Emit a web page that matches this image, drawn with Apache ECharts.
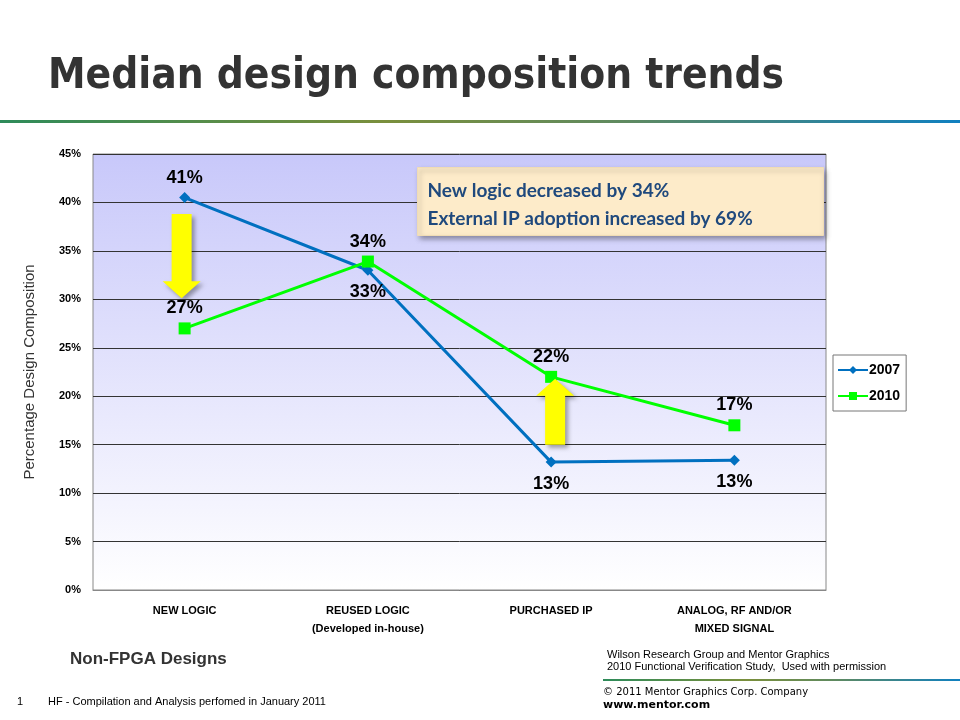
<!DOCTYPE html>
<html>
<head>
<meta charset="utf-8">
<script src="https://cdn.jsdelivr.net/npm/echarts@6/dist/echarts.min.js"></script>
<style>
  html, body { margin: 0; padding: 0; background: #fff; }
  #chart { width: 960px; height: 720px; }
</style>
</head>
<body>
<div id="chart"></div>
<script>
// 数据
const categories = ['NEW LOGIC', 'REUSED LOGIC\n(Developed in-house)', 'PURCHASED IP', 'ANALOG, RF AND/OR\nMIXED SIGNAL'];
const values2007 = [40.5, 33.0, 13.2, 13.4];
const values2010 = [27.0, 33.9, 22.0, 17.0];
const labelPos2007 = ['top', 'bottom', 'bottom', 'bottom'];
const labelPos2010 = ['top', 'top', 'top', 'top'];
const yMin = 0;
const yMax = 45;
const yStep = 5;
const noteLines = ['New logic decreased by 34%', 'External IP adoption increased by 69%'];

const chart = echarts.init(document.getElementById('chart'));

const labelFont = {
    color: '#000',
    fontWeight: 'bold',
    fontSize: 18,
    fontFamily: 'Liberation Sans, Arial, sans-serif',
    formatter: (p) => Math.round(p.value) + '%'
};

function buildData(values, positions) {
    return values.map((v, i) => ({
        value: v,
        label: { position: positions[i], distance: positions[i] === 'top' ? 5 : 7 }
    }));
}

const ruleGradient = new echarts.graphic.LinearGradient(0, 0, 1, 0, [
    { offset: 0, color: '#2e8b5a' },
    { offset: 0.4, color: '#7a8f3c' },
    { offset: 0.65, color: '#5f8a60' },
    { offset: 1, color: '#1080c0' }
]);

const option = {
    animation: false,
    backgroundColor: '#fff',
    grid: {
        left: 93,
        right: 134,
        top: 154,
        bottom: 130,
        containLabel: false,
        outerBoundsMode: 'none',
        show: true,
        borderColor: '#888',
        borderWidth: 1,
        backgroundColor: new echarts.graphic.LinearGradient(0, 0, 0, 1, [
            { offset: 0, color: '#c8c8fa' },
            { offset: 1, color: '#ffffff' }
        ])
    },
    legend: {
        orient: 'vertical',
        left: 833,
        top: 355,
        padding: [8, 6, 8, 4],
        itemGap: 12,
        itemWidth: 30,
        itemHeight: 10,
        backgroundColor: '#fff',
        borderColor: '#777',
        borderWidth: 1,
        textStyle: {
            color: '#000',
            fontWeight: 'bold',
            fontSize: 14,
            fontFamily: 'Liberation Sans, Arial, sans-serif',
            padding: [0, 0, 0, -4]
        },
        data: ['2007', '2010']
    },
    xAxis: {
        type: 'category',
        data: categories,
        boundaryGap: true,
        axisLine: { show: true, lineStyle: { color: '#888', width: 1 } },
        axisTick: { show: false },
        axisLabel: {
            color: '#000',
            fontWeight: 'bold',
            fontSize: 11,
            lineHeight: 18,
            margin: 12,
            fontFamily: 'Liberation Sans Narrow, Liberation Sans, Arial, sans-serif'
        }
    },
    yAxis: {
        type: 'value',
        min: yMin,
        max: yMax,
        interval: yStep,
        name: 'Percentage Design Composition',
        nameLocation: 'middle',
        nameGap: 56,
        nameRotate: 90,
        nameTextStyle: {
            color: '#333',
            fontSize: 15,
            fontFamily: 'Liberation Sans, Arial, sans-serif'
        },
        axisLine: { show: false },
        axisTick: { show: false },
        axisLabel: {
            color: '#000',
            fontWeight: 'bold',
            fontSize: 11,
            margin: 12,
            fontFamily: 'Liberation Sans, Arial, sans-serif',
            formatter: '{value}%'
        },
        splitLine: { show: true, lineStyle: { color: '#333', width: 1 } }
    },
    series: [
        {
            name: '2007',
            type: 'line',
            data: buildData(values2007, labelPos2007),
            symbol: 'diamond',
            symbolSize: 11,
            lineStyle: { color: '#0070c0', width: 3 },
            itemStyle: { color: '#0070c0' },
            label: Object.assign({ show: true }, labelFont),
            z: 3
        },
        {
            name: '2010',
            type: 'line',
            data: buildData(values2010, labelPos2010),
            symbol: 'rect',
            symbolSize: 12,
            lineStyle: { color: '#00ff00', width: 3 },
            itemStyle: { color: '#00ff00' },
            label: Object.assign({ show: true }, labelFont),
            z: 4
        }
    ]
};

chart.setOption(option);

// 箭头：相对于坐标轴位置绘制
function arrowShape(cx, tipY, tailY) {
    const dir = tipY > tailY ? 1 : -1;
    const headLen = 17 * dir;
    const shaftHalf = 10;
    const headHalf = 19;
    const baseY = tipY - headLen;
    return [
        [cx - shaftHalf, tailY],
        [cx + shaftHalf, tailY],
        [cx + shaftHalf, baseY],
        [cx + headHalf, baseY],
        [cx, tipY],
        [cx - headHalf, baseY],
        [cx - shaftHalf, baseY]
    ];
}

function px(idx, val) {
    return chart.convertToPixel({ xAxisIndex: 0, yAxisIndex: 0 }, [idx, val]);
}

const a1Top = px(0, 38.8);
const a1Tip = px(0, 30.1);
const a2Tip = px(2, 21.8);
const a2Tail = px(2, 15.0);

const arrowStyle = {
    fill: '#ffff00',
    shadowBlur: 4,
    shadowOffsetX: 3,
    shadowOffsetY: 3,
    shadowColor: 'rgba(0,0,0,0.35)'
};

chart.setOption({
    graphic: [
        {
            type: 'text',
            left: 48,
            top: 56,
            style: {
                text: 'Median design composition trends',
                fill: '#333',
                font: 'bold 42px "DejaVu Sans Condensed", "DejaVu Sans", sans-serif'
            }
        },
        {
            type: 'rect',
            shape: { x: 0, y: 120, width: 960, height: 3 },
            style: { fill: ruleGradient }
        },
        {
            type: 'polygon',
            shape: { points: arrowShape(a1Top[0] - 3, a1Tip[1], a1Top[1]) },
            style: arrowStyle,
            z: 10
        },
        {
            type: 'polygon',
            shape: { points: arrowShape(a2Tip[0] + 4, a2Tip[1], a2Tail[1]) },
            style: arrowStyle,
            z: 10
        },
        {
            type: 'group',
            left: 417,
            top: 167,
            z: 20,
            children: [
                {
                    type: 'rect',
                    shape: { x: 0, y: 0, width: 406, height: 68 },
                    style: {
                        fill: '#fdebc9',
                        stroke: '#f0dcb4',
                        lineWidth: 1,
                        shadowBlur: 5,
                        shadowOffsetX: 2,
                        shadowOffsetY: 3,
                        shadowColor: 'rgba(0,0,0,0.35)'
                    }
                },
                {
                    type: 'text',
                    x: 10,
                    y: 9,
                    style: {
                        text: noteLines.join('\n'),
                        fill: '#1f497d',
                        font: 'bold 19px Lato, "Open Sans", sans-serif',
                        lineHeight: 28
                    }
                }
            ]
        },
        {
            type: 'text',
            left: 70,
            top: 651,
            style: {
                text: 'Non-FPGA Designs',
                fill: '#333',
                font: 'bold 17px "Liberation Sans", Arial, sans-serif'
            }
        },
        {
            type: 'text',
            left: 17,
            top: 696,
            style: { text: '1', fill: '#000', font: '11px "Liberation Sans", Arial, sans-serif' }
        },
        {
            type: 'text',
            left: 48,
            top: 696,
            style: {
                text: 'HF - Compilation and Analysis perfomed in January 2011',
                fill: '#000',
                font: '11px "Liberation Sans", Arial, sans-serif'
            }
        },
        {
            type: 'text',
            left: 607,
            top: 649,
            style: {
                text: 'Wilson Research Group and Mentor Graphics\n2010 Functional Verification Study,  Used with permission',
                fill: '#000',
                font: '11px "Liberation Sans", Arial, sans-serif',
                lineHeight: 12
            }
        },
        {
            type: 'rect',
            shape: { x: 603, y: 679, width: 357, height: 2 },
            style: { fill: ruleGradient }
        },
        {
            type: 'text',
            left: 603,
            top: 687,
            style: {
                text: '© 2011 Mentor Graphics Corp. Company',
                fill: '#000',
                font: '10px "DejaVu Sans", Verdana, sans-serif'
            }
        },
        {
            type: 'text',
            left: 603,
            top: 700,
            style: {
                text: 'www.mentor.com',
                fill: '#000',
                font: 'bold 11px "DejaVu Sans", Verdana, sans-serif'
            }
        }
    ]
});
</script>
</body>
</html>
